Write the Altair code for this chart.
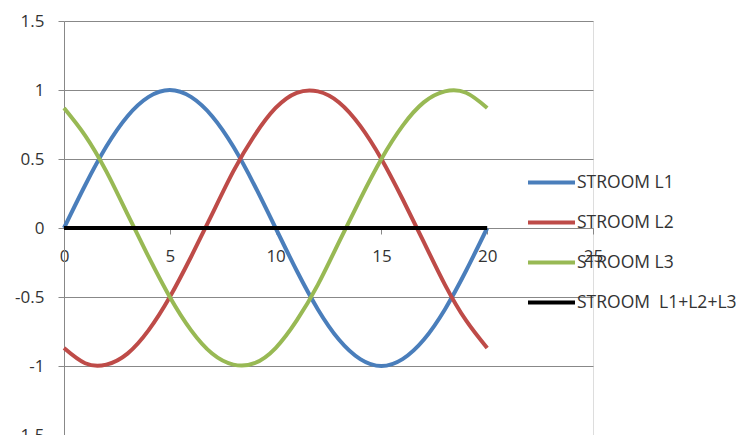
import altair as alt
import pandas as pd

# x positions (time steps)
x_vals = [0, 1, 2, 3, 4, 5, 6, 7, 8, 9, 10, 11, 12, 13, 14, 15, 16, 17, 18, 19, 20]

# series values
l1 = [0.00, 0.31, 0.59, 0.81, 0.95, 1.00, 0.95, 0.81, 0.59, 0.31, 0.00,
      -0.31, -0.59, -0.81, -0.95, -1.00, -0.95, -0.81, -0.59, -0.31, 0.00]
l2 = [-0.87, -0.98, -0.99, -0.91, -0.74, -0.50, -0.21, 0.10, 0.41, 0.67, 0.87,
      0.98, 0.99, 0.91, 0.74, 0.50, 0.21, -0.10, -0.41, -0.67, -0.87]
l3 = [0.87, 0.67, 0.41, 0.10, -0.21, -0.50, -0.74, -0.91, -0.99, -0.98, -0.87,
      -0.67, -0.41, -0.10, 0.21, 0.50, 0.74, 0.91, 0.99, 0.98, 0.87]
lsum = [0.00, 0.00, 0.00, 0.00, 0.00, 0.00, 0.00, 0.00, 0.00, 0.00, 0.00,
        0.00, 0.00, 0.00, 0.00, 0.00, 0.00, 0.00, 0.00, 0.00, 0.00]

names = ["STROOM L1", "STROOM L2", "STROOM L3", "STROOM\u00a0 L1+L2+L3"]
colors = ["#4A7EBB", "#BE4B48", "#98B954", "#000000"]
widths = [4, 4, 4, 5]

x_ticks = [0, 5, 10, 15, 20, 25]
y_ticks = [-1.5, -1, -0.5, 0, 0.5, 1, 1.5]

rows = []
for i, (name, vals) in enumerate(zip(names, [l1, l2, l3, lsum])):
    for xv, yv in zip(x_vals, vals):
        rows.append({"x": xv, "y": yv, "series": name, "order": i})
df = pd.DataFrame(rows)

FONT = "Open Sans"
TXT = "#333333"
GRID = "#888888"

chart = alt.Chart(df).mark_line(interpolate="natural").encode(
    x=alt.X("x:Q",
            scale=alt.Scale(domain=[0, 25], nice=False, zero=False),
            axis=alt.Axis(values=x_ticks, grid=False, title=None, offset=-207,
                          tickSize=6, tickColor=GRID, domainColor=GRID,
                          labelPadding=14, labelFontSize=17, labelFont=FONT,
                          labelColor=TXT, labelFlush=False, labelOverlap=False)),
    y=alt.Y("y:Q",
            scale=alt.Scale(domain=[-1.5, 1.5], nice=False),
            axis=alt.Axis(values=y_ticks, grid=True, gridColor=GRID, title=None,
                          tickSize=6, tickColor=GRID, domainColor=GRID,
                          labelPadding=14, labelFontSize=17, labelFont=FONT,
                          labelColor=TXT, labelExpr="'' + datum.value",
                          labelFlush=False, labelOverlap=False)),
    color=alt.Color("series:N", sort=names,
                    scale=alt.Scale(domain=names, range=colors),
                    legend=alt.Legend(title=None, orient="none", legendX=462, legendY=136,
                                      symbolType="stroke", symbolSize=2209,
                                      symbolStrokeWidth=4, labelOffset=0,
                                      labelFont=FONT, labelFontSize=17.5, labelColor=TXT,
                                      rowPadding=6, padding=0, labelLimit=300)),
    strokeWidth=alt.StrokeWidth("series:N", sort=names,
                                scale=alt.Scale(domain=names, range=widths), legend=None),
    order=alt.Order("order:Q"),
    detail="series:N",
).properties(
    width=529, height=414,
    autosize=alt.AutoSizeParams(type="none"),
    padding={"left": 56, "top": 13, "right": 143, "bottom": 0},
).configure_view(stroke=None).configure(background="white")

chart.save("out.html", embed_options={"renderer": "svg", "actions": False})
